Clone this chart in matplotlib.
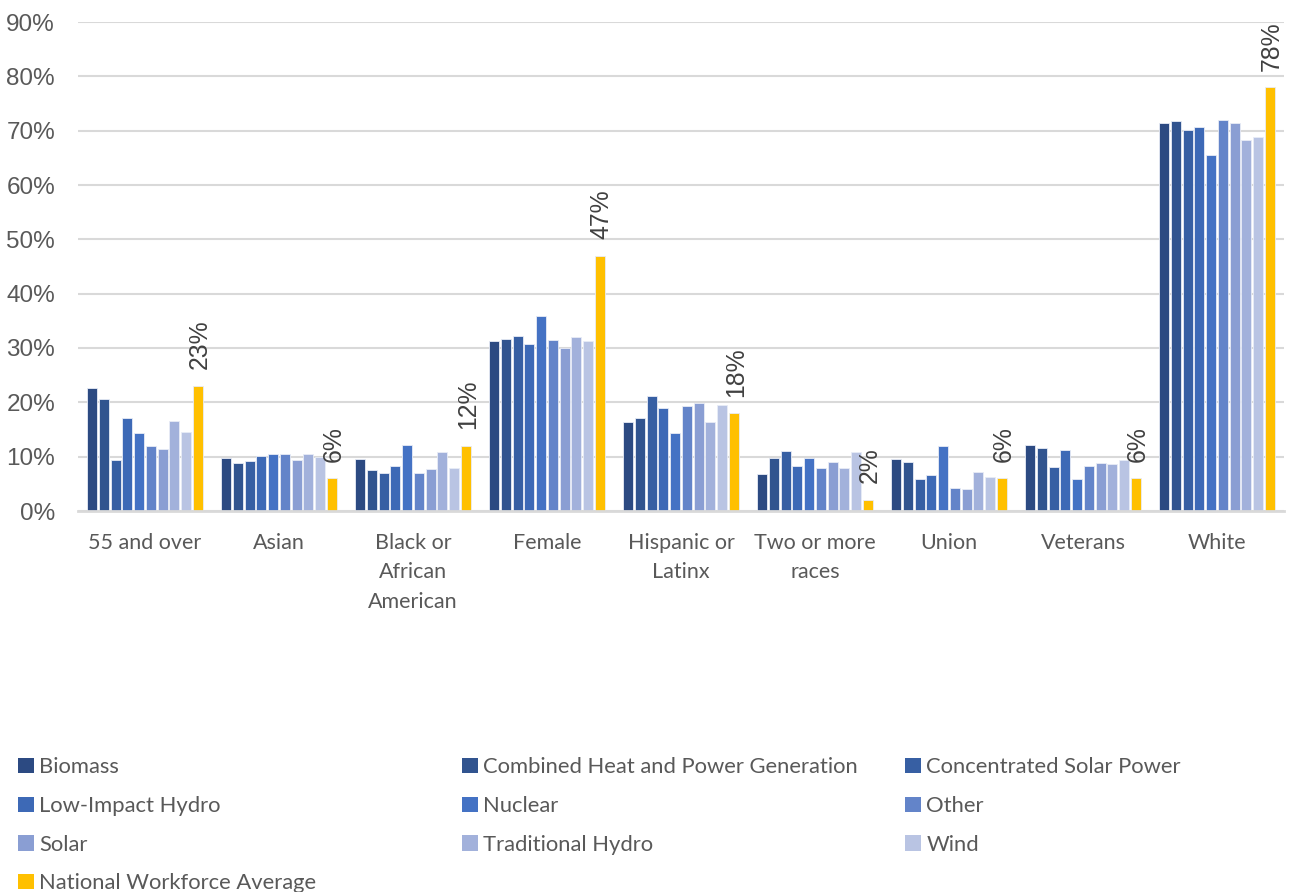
import numpy as np
import matplotlib.pyplot as plt
from matplotlib.patches import Patch
from matplotlib.ticker import FuncFormatter

plt.rcParams['font.family'] = ['Lato', 'DejaVu Sans']

categories = ["55 and over", "Asian", "Black or\nAfrican\nAmerican", "Female",
              "Hispanic or\nLatinx", "Two or more\nraces", "Union", "Veterans", "White"]

series_names = ["Biomass", "Combined Heat and Power Generation", "Concentrated Solar Power",
                "Low-Impact Hydro", "Nuclear", "Other", "Solar", "Traditional Hydro", "Wind",
                "National Workforce Average"]

biomass = [22.6, 9.8, 9.5, 31.3, 16.3, 6.8, 9.6, 12.2, 71.4]
chp = [20.7, 8.9, 7.6, 31.6, 17.2, 9.8, 9.1, 11.6, 71.8]
csp = [9.4, 9.2, 7.0, 32.2, 21.1, 11.1, 5.8, 8.1, 70.1]
low_impact_hydro = [17.1, 10.2, 8.2, 30.8, 18.9, 8.3, 6.6, 11.2, 70.6]
nuclear = [14.4, 10.4, 12.2, 35.8, 14.4, 9.8, 12.0, 5.8, 65.5]
other = [11.9, 10.5, 7.0, 31.4, 19.4, 8.0, 4.2, 8.2, 72.0]
solar = [11.4, 9.4, 7.7, 30.0, 19.8, 9.0, 4.0, 8.8, 71.4]
traditional_hydro = [16.5, 10.4, 10.9, 32.1, 16.3, 7.9, 7.1, 8.6, 68.3]
wind = [14.5, 10.0, 7.9, 31.3, 19.5, 10.8, 6.2, 9.3, 68.8]
national_avg = [23, 6, 12, 47, 18, 2, 6, 6, 78]

colors = ["#2C4A82", "#31548F", "#375FA3", "#3D69B6", "#4472C4",
          "#6384C9", "#8A9ED3", "#A2B1DB", "#B9C4E3", "#FFC000"]

values = [biomass, chp, csp, low_impact_hydro, nuclear, other, solar,
          traditional_hydro, wind, national_avg]

num_font = ['Liberation Sans', 'DejaVu Sans']

fig = plt.figure(figsize=(12.93, 8.92), dpi=100)
ax = fig.add_axes([78 / 1293, 1 - 511 / 892, (1284 - 78) / 1293, (511 - 22) / 892])

x = np.arange(len(categories))
n = len(values)
pitch = 0.0873
width = 0.074
handles = []
for i, (vals, col) in enumerate(zip(values, colors)):
    offs = (i - (n - 1) / 2) * pitch
    bars = ax.bar(x + offs, np.array(vals) / 100, width=width, color=col,
                  edgecolor="#E8ECF6", linewidth=0.6, zorder=3)
    handles.append(Patch(facecolor=col, label=series_names[i]))
    if i == n - 1:
        for b, v in zip(bars, vals):
            ax.annotate(f"{v:.0f}%", (b.get_x() + b.get_width() / 2, b.get_height()),
                        xytext=(1.5, 12), textcoords="offset points", rotation=90,
                        ha="center", va="bottom", fontsize=17.8, color="#404040",
                        family=num_font)

ax.set_ylim(0, 0.9)
ax.set_xlim(-0.5, len(categories) - 0.5)
ax.set_yticks(np.arange(0, 0.91, 0.1))
ax.yaxis.set_major_formatter(FuncFormatter(lambda v, p: f"{v * 100:.0f}%"))
ax.set_xticks(x)
ax.set_xticklabels(categories, linespacing=1.6)
ax.tick_params(axis="both", length=0, labelcolor="#595959")
ax.tick_params(axis="x", pad=15.5, labelsize=15.5)
ax.tick_params(axis="y", pad=16.5, labelsize=17.5)
for lbl in ax.get_yticklabels():
    lbl.set_horizontalalignment("right")
    lbl.set_family(num_font)
ax.grid(axis="y", color="#D9D9D9", linewidth=1.5, zorder=0)
for s in ["top", "right", "left"]:
    ax.spines[s].set_visible(False)
ax.spines["bottom"].set_color("#D9D9D9")
ax.spines["bottom"].set_linewidth(2)
ax.spines["bottom"].set_zorder(4)

# Legend laid out row by row in three columns
columns = [[0, 3, 6, 9], [1, 4, 7], [2, 5, 8]]
col_x = [14, 458, 901]
for cx, idxs in zip(col_x, columns):
    fig.legend(handles=[handles[k] for k in idxs], loc="upper left",
               bbox_to_anchor=(cx / 1293, 1 - 753 / 892), frameon=False,
               handlelength=0.7, handleheight=0.7, handletextpad=0.25,
               labelspacing=0.85, fontsize=15.8, labelcolor="#595959",
               borderaxespad=0, borderpad=0.2)

fig.savefig("out.png", dpi=100)
